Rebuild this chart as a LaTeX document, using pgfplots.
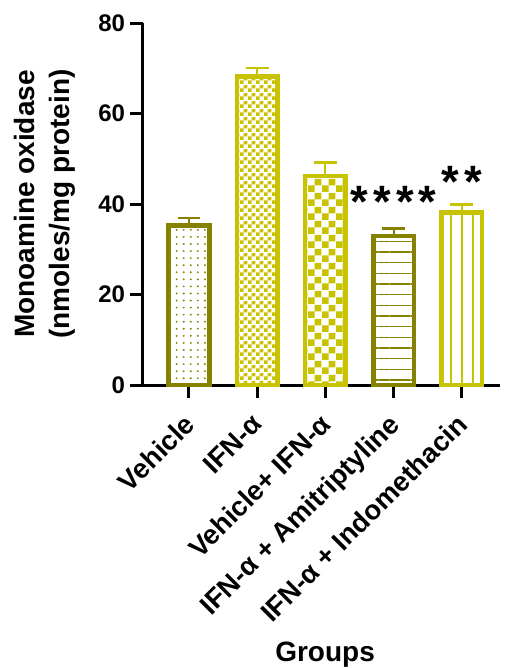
\documentclass[border=0pt]{standalone}
\usepackage{fontspec}
\setmainfont{Liberation Sans}
\usepackage{pgfplots}
\pgfplotsset{compat=1.18}
\usetikzlibrary{patterns,patterns.meta}
\definecolor{dark}{RGB}{133,130,0}
\definecolor{light}{RGB}{200,195,0}
\pgfdeclarepatternformonly{finecheck}{\pgfpointorigin}{\pgfqpoint{6pt}{6pt}}{\pgfqpoint{6pt}{6pt}}{%
 \pgfpathrectangle{\pgfpointorigin}{\pgfqpoint{3pt}{3pt}}%
 \pgfpathrectangle{\pgfqpoint{3pt}{3pt}}{\pgfqpoint{3pt}{3pt}}%
 \pgfusepath{fill}}
\pgfdeclarepatternformonly{coarsecheck}{\pgfpointorigin}{\pgfqpoint{10.5pt}{10.5pt}}{\pgfqpoint{10.5pt}{10.5pt}}{%
 \pgfpathrectangle{\pgfpointorigin}{\pgfqpoint{5.25pt}{5.25pt}}%
 \pgfpathrectangle{\pgfqpoint{5.25pt}{5.25pt}}{\pgfqpoint{5.25pt}{5.25pt}}%
 \pgfusepath{fill}}
\pgfdeclarepatternformonly{mydots}{\pgfqpoint{-1pt}{-1pt}}{\pgfqpoint{1pt}{1pt}}{\pgfqpoint{5.3pt}{5.3pt}}{%
 \pgfpathcircle{\pgfpointorigin}{0.8pt}\pgfusepath{fill}}
\begin{document}
\begin{tikzpicture}
\useasboundingbox (0,0) rectangle (378pt,501pt);
\begin{axis}[
 at={(107.25pt,212.25pt)}, anchor=south west,
 scale only axis, width=267.75pt, height=271.5pt,
 xmin=-0.674, xmax=4.56, ymin=0, ymax=80,
 axis x line*=bottom, axis y line*=left,
 axis line style={line width=2.25pt, black},
 ytick={0,20,...,80}, xtick={0,1,2,3,4},
 xticklabels={Vehicle, IFN-α, Vehicle+ IFN-α, IFN-α + Amitriptyline, IFN-α + Indomethacin},
 tick style={line width=2.25pt, black},
 major tick length=10pt,
 tick align=outside,
 /pgf/number format/assume math mode=true,
 ybar, bar width=30.4pt, bar shift=0pt,
 yticklabel style={font=\fontsize{18}{20}\selectfont\bfseries},
 xticklabel style={font=\fontsize{20.5}{22}\selectfont\bfseries, xshift=-5pt, yshift=-9pt, rotate=45, anchor=north east, inner sep=1pt},
 ylabel={Monoamine oxidase\\(nmoles/mg protein)},
 ylabel style={font=\fontsize{21}{26}\selectfont\bfseries, align=center, at={(axis description cs:-0.275,0.5)}, anchor=center},
 xlabel={Groups},
 xlabel style={font=\fontsize{21}{24}\selectfont\bfseries, at={(axis description cs:0.51,-0.745)}, anchor=center},
 clip=false,
 error bars/error mark=|,
]
\addplot[draw=dark, line width=3.4pt, pattern=mydots, pattern color=dark,
 error bars/.cd, y dir=plus, y explicit,
 error bar style={line width=1.5pt, draw=dark},
 error mark options={line width=1.7pt, mark size=8.5pt, draw=dark}]
 coordinates {(0,35.2) +- (0,1.7)};
\addplot[draw=light, line width=3.4pt, pattern=finecheck, pattern color=light,
 error bars/.cd, y dir=plus, y explicit,
 error bar style={line width=1.5pt, draw=light},
 error mark options={line width=1.7pt, mark size=8.5pt, draw=light}]
 coordinates {(1,68.2) +- (0,1.8)};
\addplot[draw=light, line width=3.4pt, pattern=coarsecheck, pattern color=light,
 error bars/.cd, y dir=plus, y explicit,
 error bar style={line width=1.5pt, draw=light},
 error mark options={line width=1.7pt, mark size=8.5pt, draw=light}]
 coordinates {(2,46.2) +- (0,3.0)};
\addplot[draw=dark, line width=3.4pt, pattern={Lines[angle=0,distance=8pt,line width=1pt]}, pattern color=dark,
 error bars/.cd, y dir=plus, y explicit,
 error bar style={line width=1.5pt, draw=dark},
 error mark options={line width=1.7pt, mark size=8.5pt, draw=dark}]
 coordinates {(3,32.9) +- (0,1.7)};
\addplot[draw=light, line width=3.4pt, pattern={Lines[angle=90,distance=8.25pt,line width=1.5pt]}, pattern color=light,
 error bars/.cd, y dir=plus, y explicit,
 error bar style={line width=1.5pt, draw=light},
 error mark options={line width=1.7pt, mark size=8.5pt, draw=light}]
 coordinates {(4,38.1) +- (0,1.8)};
\node[font=\fontsize{34}{34}\selectfont\bfseries, anchor=base, inner sep=0pt] at (axis cs:3,37.1) {*\kern3.8pt*\kern3.8pt*\kern3.8pt*};
\node[font=\fontsize{34}{34}\selectfont\bfseries, anchor=base, inner sep=0pt] at (axis cs:4,41.5) {*\kern3.8pt*};
\end{axis}
\end{tikzpicture}
\end{document}
